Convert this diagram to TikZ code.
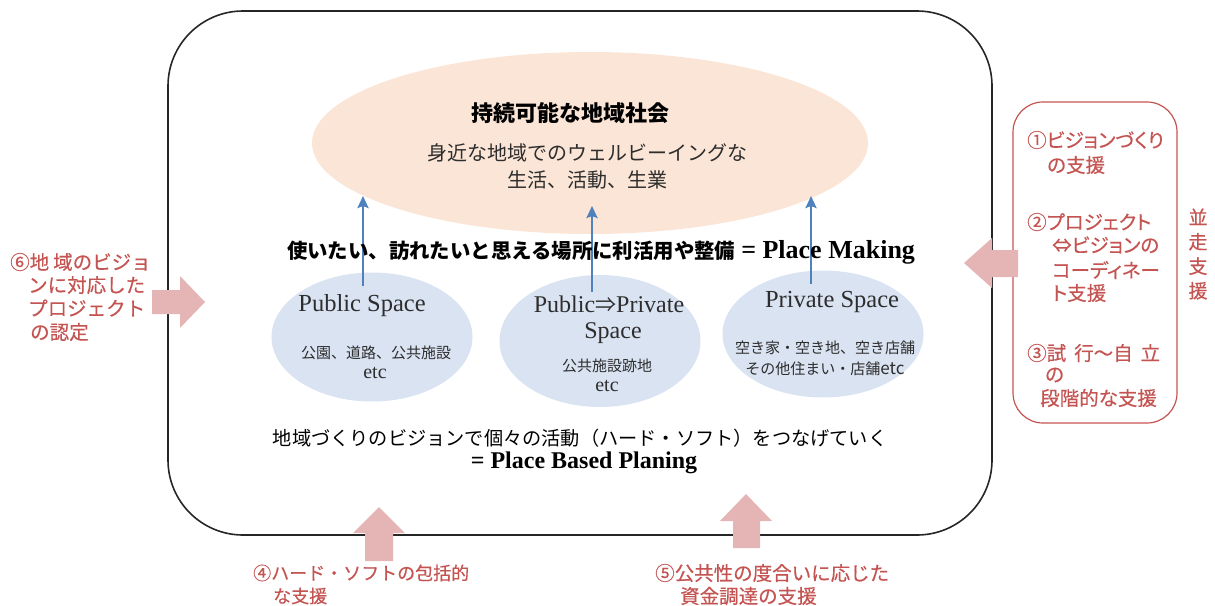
\documentclass[tikz,border=0pt]{standalone}
\usepackage{fontspec}
\setmainfont{Liberation Serif}
\newfontfamily\jp{Noto Sans CJK JP}
\newfontfamily\jpr[FakeBold=0.4]{Noto Sans CJK JP}
\newfontfamily\jpp[CharacterWidth=AlternateProportional,FakeBold=0.4]{Noto Sans CJK JP}
\usetikzlibrary{arrows.meta,shapes.geometric}
\definecolor{peach}{RGB}{251,229,214}
\definecolor{paleblue}{RGB}{218,227,242}
\definecolor{arrowblue}{RGB}{79,129,189}
\definecolor{redtext}{RGB}{196,84,82}
\definecolor{pinkarrow}{RGB}{229,181,181}
\definecolor{softblack}{RGB}{45,45,45}
\tikzset{
  frame/.style={draw=black!85, line width=1.6pt, rounded corners=75pt, inner sep=0pt},
  redbox/.style={draw=redtext, line width=1.2pt, rounded corners=30pt, inner sep=0pt},
  goalell/.style={ellipse, fill=peach, inner sep=0pt},
  spaceell/.style={ellipse, fill=paleblue, inner sep=0pt},
  uparrow/.style={draw=arrowblue, line width=2.4pt, -{Stealth[length=12pt,width=11pt,inset=2pt]}},
  blockarrow/.style={fill=pinkarrow},
  txt/.style={inner sep=0pt, text=softblack},
  lat/.style={txt, font=\fontsize{24.5}{28}\selectfont},
  small/.style={txt, font=\jp\fontsize{15}{18}\selectfont},
  red/.style={inner sep=0pt, anchor=west, text=redtext, font=\jpp\fontsize{19.5}{22}\selectfont},
  redw/.style={inner sep=0pt, anchor=west, text=redtext},
}
\begin{document}
\begin{tikzpicture}[x=1pt,y=-1pt]
\useasboundingbox (0,0) rectangle (1215,605);

% main frame
\node[frame, minimum width=824pt, minimum height=524pt] (frame) at (580,273) {};

% goal ellipse
\node[goalell, minimum width=556pt, minimum height=182pt] (goal) at (590,143) {};
\node[txt, text=black, font=\jp\bfseries\fontsize{22}{26}\selectfont] (title) at (570,113) {持続可能な地域社会};
\node[txt, font=\jp\fontsize{20}{24}\selectfont] (goal1) at (587,153) {身近な地域でのウェルビーイングな};
\node[txt, font=\jp\fontsize{20}{24}\selectfont] (goal2) at (587,180) {生活、活動、生業};

% space ellipses
\node[spaceell, minimum width=201pt, minimum height=129pt] (pub) at (372,337) {};
\node[spaceell, minimum width=201pt, minimum height=132pt] (mid) at (600,341) {};
\node[spaceell, minimum width=201pt, minimum height=127pt] (priv) at (823,334) {};

% blue arrows
\coordinate (a1s) at (363,286); \coordinate (a1e) at (363,196);
\coordinate (a2s) at (592,292); \coordinate (a2e) at (592,206);
\coordinate (a3s) at (811,284); \coordinate (a3e) at (811,196);
\draw[uparrow] (a1s) -- (a1e);
\draw[uparrow] (a2s) -- (a2e);
\draw[uparrow] (a3s) -- (a3e);

% place making line
\node[txt, text=black] (making) at (601,252)
  {{\jp\bfseries\fontsize{20.4}{24}\selectfont 使いたい、訪れたいと思える場所に利活用や整備}\hspace{6pt}{\bfseries\fontsize{26}{28}\selectfont = Place Making}};

% texts in space ellipses
\node[lat] (pubT) at (362,306) {Public Space};
\node[small] (pubS) at (376,353) {公園、道路、公共施設};
\node[txt, font=\fontsize{20}{22}\selectfont] (pubE) at (375,373) {etc};

\node[lat, font=\fontsize{24}{26}\selectfont] (midT) at (609,304) {Public{\jp\fontsize{21}{24}\selectfont ⇒}Private};
\node[lat, font=\fontsize{24}{26}\selectfont] (midT2) at (613,333) {Space};
\node[small] (midS) at (607,366) {公共施設跡地};
\node[txt, font=\fontsize{20}{22}\selectfont] (midE) at (607,386) {etc};

\node[lat] (privT) at (832,302) {Private Space};
\node[small] (privS) at (825,348) {空き家・空き地、空き店舗};
\node[small] (privS2) at (825,369) {その他住まい・店舗{\fontsize{17}{18}\selectfont etc}};

% planning lines
\node[txt, text=black, font=\jp\fontsize{19.2}{22}\selectfont] (plan1) at (580,438) {地域づくりのビジョンで個々の活動（ハード・ソフト）をつなげていく};
\node[txt, text=black, font=\bfseries\fontsize{24}{28}\selectfont] (plan2) at (584,463) {= Place Based Planing};

% right support box
\node[redbox, minimum width=164pt, minimum height=321pt] (support) at (1095,262.5) {};
\node[red] (s1a) at (1027,140) {①ビジョンづくり};
\node[red] (s1b) at (1047,165) {の支援};
\node[red] (s2a) at (1027,222) {②プロジェクト};
\node[red] (s2b) at (1052,245) {⇔ビジョンの};
\node[red] (s2c) at (1052,270) {コーディネー};
\node[red] (s2d) at (1052,293) {ト支援};
\node[red] (s3a) at (1027,353) {③試\hspace{8pt}行～自\hspace{8pt}立};
\node[red] (s3b) at (1045,375) {の};
\node[red] (s3c) at (1040,398) {段階的な支援};
\node[inner sep=0pt, text=redtext, align=center, font=\jpr\fontsize{19}{24.5}\selectfont] (heisou) at (1198,254) {並\\走\\支\\援};

% left text
\node[redw, font=\jpr\fontsize{19.5}{22}\selectfont] (l1) at (10,262) {⑥地\hspace{4pt}域のビジョ};
\node[redw, font=\jpr\fontsize{19.5}{22}\selectfont] (l2) at (28,285) {ンに対応した};
\node[redw, font=\jpr\fontsize{19.5}{22}\selectfont] (l3) at (28,308) {プロジェクト};
\node[redw, font=\jpr\fontsize{19.5}{22}\selectfont] (l4) at (30,332) {の認定};

% bottom texts
\node[redw, font=\jpr\fontsize{18}{22}\selectfont] (b1) at (253,573) {④ハード・ソフトの包括的};
\node[redw, font=\jpr\fontsize{18}{22}\selectfont] (b2) at (273,596) {な支援};
\node[redw, font=\jpr\fontsize{19.5}{22}\selectfont] (c1) at (655,573) {⑤公共性の度合いに応じた};
\node[redw, font=\jpr\fontsize{19.5}{22}\selectfont] (c2) at (680,596) {資金調達の支援};

% block arrows
\fill[blockarrow] (152,290) -- (180,290) -- (180,276) -- (205,302) -- (180,328) -- (180,314) -- (152,314) -- cycle;
\fill[blockarrow] (1018,250) -- (992,250) -- (992,238) -- (964,263) -- (992,288) -- (992,277) -- (1018,277) -- cycle;
\fill[blockarrow] (365,561) -- (365,533) -- (353,533) -- (379,507) -- (405,533) -- (393,533) -- (393,561) -- cycle;
\fill[blockarrow] (733,548) -- (733,521) -- (720,521) -- (746,494) -- (772,521) -- (760,521) -- (760,548) -- cycle;
\end{tikzpicture}
\end{document}
